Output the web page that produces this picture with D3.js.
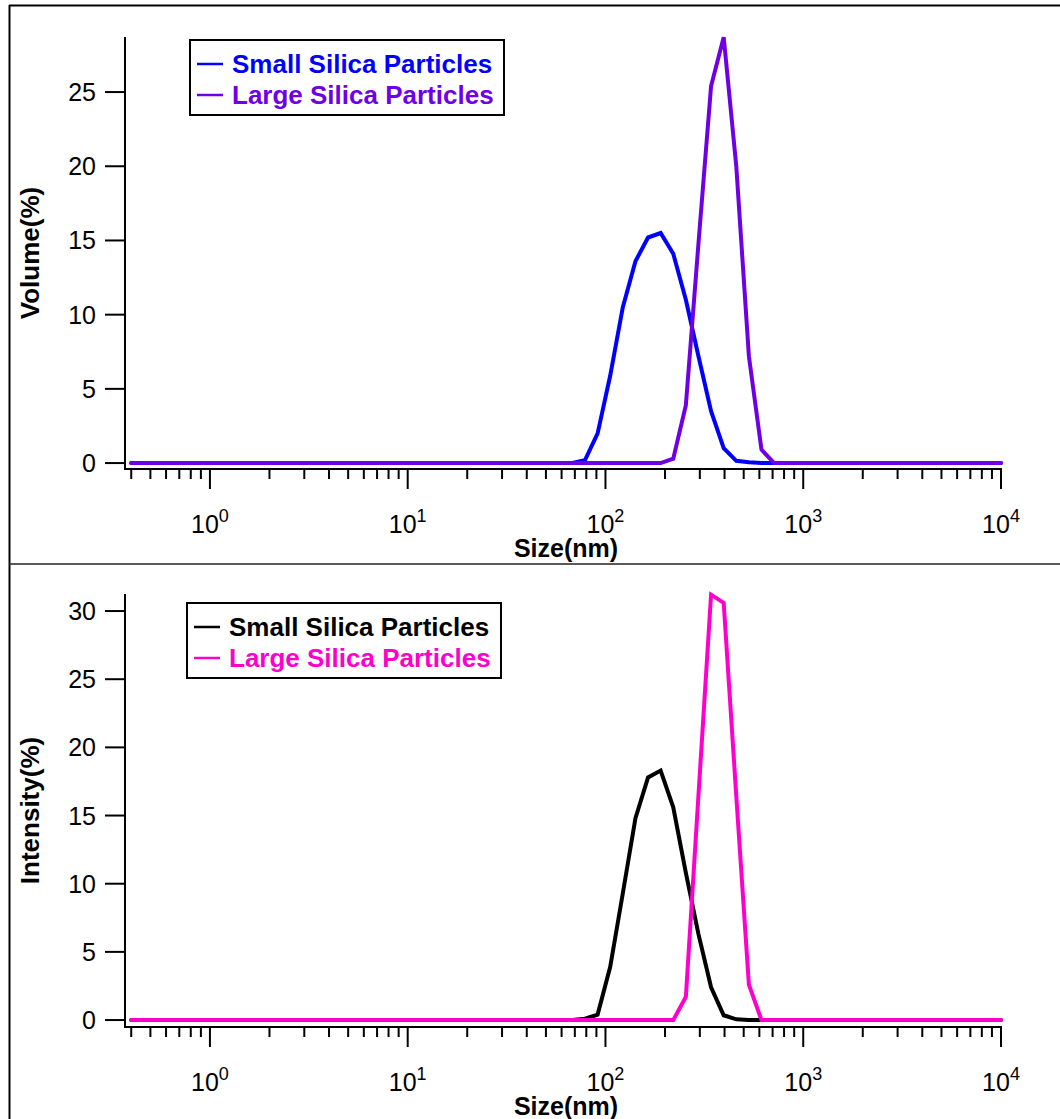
<!DOCTYPE html>
<html>
<head>
<meta charset="utf-8">
<script src="https://cdn.jsdelivr.net/npm/d3@7"></script>
<style>
  body { margin: 0; background: #fff; }
  svg { display: block; font-family: "Liberation Sans", Arial, sans-serif; }
</style>
</head>
<body>
<div id="cntr"></div>
<script>
// Size bins (nm) of the instrument
const sizes = [0.4, 0.4632, 0.5365, 0.6213, 0.7195, 0.8332, 0.9649, 1.117, 1.294, 1.499,
  1.736, 2.010, 2.328, 2.696, 3.122, 3.615, 4.187, 4.849, 5.615, 6.503,
  7.531, 8.721, 10.10, 11.70, 13.54, 15.69, 18.17, 21.04, 24.36, 28.21,
  32.67, 37.84, 43.82, 50.75, 58.77, 68.06, 78.82, 91.28, 105.7, 122.4,
  141.8, 164.2, 190.1, 220.2, 255.0, 295.3, 342.0, 396.1, 458.7, 531.2,
  615.1, 712.4, 825.0, 955.4, 1106, 1281, 1484, 1718, 1990, 2305,
  2669, 3091, 3580, 4145, 4801, 5560, 6439, 7456, 8635, 10000];

const volumeSmall = [0, 0, 0, 0, 0, 0, 0, 0, 0, 0,
  0, 0, 0, 0, 0, 0, 0, 0, 0, 0,
  0, 0, 0, 0, 0, 0, 0, 0, 0, 0,
  0, 0, 0, 0, 0, 0, 0.2, 2.0, 5.9, 10.5,
  13.6, 15.2, 15.5, 14.1, 11.0, 7.2, 3.5, 1.0, 0.15, 0.05,
  0, 0, 0, 0, 0, 0, 0, 0, 0, 0,
  0, 0, 0, 0, 0, 0, 0, 0, 0, 0];

const volumeLarge = [0, 0, 0, 0, 0, 0, 0, 0, 0, 0,
  0, 0, 0, 0, 0, 0, 0, 0, 0, 0,
  0, 0, 0, 0, 0, 0, 0, 0, 0, 0,
  0, 0, 0, 0, 0, 0, 0, 0, 0, 0,
  0, 0, 0, 0.3, 3.9, 14.8, 25.4, 28.7, 20.0, 7.2,
  0.9, 0, 0, 0, 0, 0, 0, 0, 0, 0,
  0, 0, 0, 0, 0, 0, 0, 0, 0, 0];

const intensitySmall = [0, 0, 0, 0, 0, 0, 0, 0, 0, 0,
  0, 0, 0, 0, 0, 0, 0, 0, 0, 0,
  0, 0, 0, 0, 0, 0, 0, 0, 0, 0,
  0, 0, 0, 0, 0, 0, 0.1, 0.4, 3.9, 9.3,
  14.8, 17.8, 18.3, 15.6, 10.8, 6.3, 2.4, 0.35, 0.05, 0,
  0, 0, 0, 0, 0, 0, 0, 0, 0, 0,
  0, 0, 0, 0, 0, 0, 0, 0, 0, 0];

const intensityLarge = [0, 0, 0, 0, 0, 0, 0, 0, 0, 0,
  0, 0, 0, 0, 0, 0, 0, 0, 0, 0,
  0, 0, 0, 0, 0, 0, 0, 0, 0, 0,
  0, 0, 0, 0, 0, 0, 0, 0, 0, 0,
  0, 0, 0, 0, 1.7, 16.5, 31.2, 30.6, 16.4, 2.6,
  0, 0, 0, 0, 0, 0, 0, 0, 0, 0,
  0, 0, 0, 0, 0, 0, 0, 0, 0, 0];

const seriesNames = ["Small Silica Particles", "Large Silica Particles"];
const yTicks = [0, 5, 10, 15, 20, 25, 30];
const xMajor = [1, 10, 100, 1000, 10000];

const W = 1060, H = 1119;

const svg = d3.select("#cntr")
    .append("svg")
    .attr("width", W)
    .attr("height", H);

// outer frame
svg.append("line").attr("x1", 9).attr("x2", W).attr("y1", 5.5).attr("y2", 5.5)
    .attr("stroke", "#000").attr("stroke-width", 2);
svg.append("line").attr("x1", 9.5).attr("x2", 9.5).attr("y1", 5).attr("y2", H)
    .attr("stroke", "#000").attr("stroke-width", 2);
svg.append("line").attr("x1", 9).attr("x2", W).attr("y1", 564).attr("y2", 564)
    .attr("stroke", "#222").attr("stroke-width", 1.5);

const x = d3.scaleLog().domain([0.372, 10000]).range([125, 1001]);

// minor ticks: 2..9 of every decade, plus 0.4..0.9 before 1
const minorTicks = [];
[0.1, 1, 10, 100, 1000].forEach(dec => {
    for (let k = 2; k <= 9; k++) {
        const v = k * dec;
        if (v >= 0.4 && v < 10000) minorTicks.push(v);
    }
});

function drawPanel(p) {
    const y = d3.scaleLinear().domain(p.yDomain).range([p.bottom, p.top]);
    const g = svg.append("g");

    // axes lines
    g.append("line").attr("x1", 125).attr("x2", 125).attr("y1", p.top).attr("y2", p.bottom)
        .attr("stroke", "#000").attr("stroke-width", 2);
    g.append("line").attr("x1", 124).attr("x2", 1002).attr("y1", p.bottom).attr("y2", p.bottom)
        .attr("stroke", "#000").attr("stroke-width", 2);

    // y ticks
    const yt = yTicks.filter(v => v <= p.yDomain[1]);
    g.selectAll(".ytick").data(yt).join("line")
        .attr("x1", 105).attr("x2", 125)
        .attr("y1", d => y(d)).attr("y2", d => y(d))
        .attr("stroke", "#000").attr("stroke-width", 2);
    g.selectAll(".ylab").data(yt).join("text")
        .attr("x", 96).attr("y", d => y(d))
        .attr("dy", "0.36em")
        .attr("text-anchor", "end")
        .style("font-size", "25px")
        .text(d => d);

    // x ticks
    g.selectAll(".xminor").data(minorTicks).join("line")
        .attr("x1", d => x(d)).attr("x2", d => x(d))
        .attr("y1", p.bottom).attr("y2", p.bottom + 10)
        .attr("stroke", "#000").attr("stroke-width", 2);
    g.selectAll(".xmajor").data(xMajor).join("line")
        .attr("x1", d => x(d)).attr("x2", d => x(d))
        .attr("y1", p.bottom).attr("y2", p.bottom + 20)
        .attr("stroke", "#000").attr("stroke-width", 2);
    const xl = g.selectAll(".xlab").data(xMajor).join("text")
        .attr("x", d => x(d)).attr("y", p.bottom + 64)
        .attr("text-anchor", "middle")
        .style("font-size", "25px");
    xl.append("tspan").text("10");
    xl.append("tspan").attr("dy", -11).style("font-size", "18px")
        .text(d => Math.round(Math.log10(d)));

    // axis titles
    g.append("text")
        .attr("x", 566).attr("y", p.bottom + 88)
        .attr("text-anchor", "middle")
        .style("font-size", "25px").style("font-weight", "bold")
        .text("Size(nm)");
    g.append("text")
        .attr("transform", `translate(30,${(p.top + p.bottom) / 2}) rotate(-90)`)
        .attr("dy", "0.36em")
        .attr("text-anchor", "middle")
        .style("font-size", "26px").style("font-weight", "bold")
        .text(p.yTitle);

    // data lines
    const line = d3.line()
        .x((d, i) => x(sizes[i]))
        .y(d => y(d));
    p.series.forEach((s, i) => {
        g.append("path")
            .datum(s)
            .attr("d", line)
            .attr("fill", "none")
            .attr("stroke", p.colors[i])
            .attr("stroke-width", 4)
            .attr("stroke-linejoin", "miter")
            .attr("stroke-linecap", "round");
    });

    // legend
    const lg = g.append("g").attr("transform", `translate(${p.legend[0]},${p.legend[1]})`);
    lg.append("rect").attr("width", 314).attr("height", 75)
        .attr("fill", "#fff").attr("stroke", "#000").attr("stroke-width", 2);
    seriesNames.forEach((name, i) => {
        const cy = 24 + i * 31;
        lg.append("line").attr("x1", 7).attr("x2", 33).attr("y1", cy).attr("y2", cy)
            .attr("stroke", p.colors[i]).attr("stroke-width", 2.5);
        lg.append("text").attr("x", 42).attr("y", cy).attr("dy", "0.36em")
            .style("font-size", "26px").style("font-weight", "bold")
            .attr("fill", p.colors[i])
            .text(name);
    });
}

drawPanel({
    top: 37, bottom: 469, yDomain: [-0.4, 28.71],
    yTitle: "Volume(%)",
    series: [volumeSmall, volumeLarge],
    colors: ["#0000ff", "#6f00e6"],
    legend: [190, 40]
});

drawPanel({
    top: 594, bottom: 1027, yDomain: [-0.51, 31.25],
    yTitle: "Intensity(%)",
    series: [intensitySmall, intensityLarge],
    colors: ["#000000", "#ff00cc"],
    legend: [187, 603]
});
</script>
</body>
</html>
